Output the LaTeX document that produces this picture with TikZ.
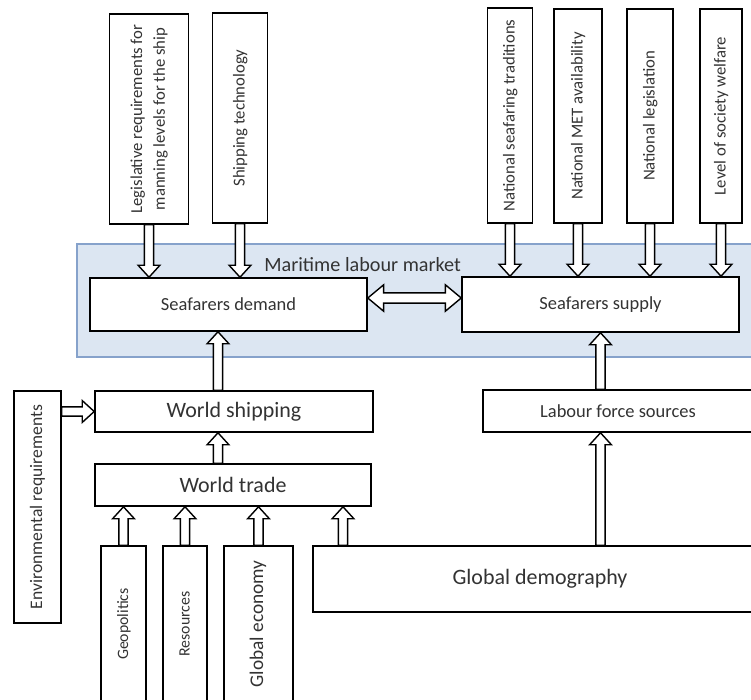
\documentclass[tikz,border=0pt]{standalone}
\usepackage{fontspec}
\setsansfont{Carlito}
\usepackage{graphicx}
\usepackage{tikz}
\usetikzlibrary{calc}
\tikzset{every picture/.style={/utils/exec={\sffamily}}}
\definecolor{marketblue}{HTML}{DCE6F2}
\definecolor{marketline}{HTML}{86A2CB}

\newcommand{\vtext}[1]{\rotatebox{90}{\begin{tabular}{@{}c@{}}#1\end{tabular}}}

\begin{document}
\begin{tikzpicture}[x=0.02cm, y=-0.02cm,
    box/.style={draw, fill=white, line width=0.9pt, inner sep=0pt, text=black!80},
    boxw/.style={minimum width=#1*0.02cm},
    boxh/.style={minimum height=#1*0.02cm},
    fs/.style={font=\fontsize{#1}{13}\selectfont},
    shaftw/.store in=\shaftw, headw/.store in=\headw, headl/.store in=\headl,
    shaftw=2.6pt, headw=6.2pt, headl=6.8pt,
    blockarrow/.style={draw=black, fill=white, line width=0.8pt,
        to path={let \p1=(\tikztostart), \p2=(\tikztotarget),
            \n1={atan2(\y2-\y1,\x2-\x1)}, \n2={veclen(\x2-\x1,\y2-\y1)} in
            {[shift={(\p1)}, rotate=\n1]
            ({0pt},{-\shaftw}) -- ({\n2-\headl},{-\shaftw}) -- ({\n2-\headl},{-\headw})
            -- ({\n2*1pt},{0pt}) -- ({\n2-\headl},{\headw}) -- ({\n2-\headl},{\shaftw})
            -- ({0pt},{\shaftw}) -- cycle}}},
    twoarrow/.style={draw=black, fill=white, line width=0.8pt,
        to path={let \p1=(\tikztostart), \p2=(\tikztotarget),
            \n1={atan2(\y2-\y1,\x2-\x1)}, \n2={veclen(\x2-\x1,\y2-\y1)} in
            {[shift={(\p1)}, rotate=\n1]
            ({0pt},{0pt}) -- ({\headl},{\headw}) -- ({\headl},{\shaftw})
            -- ({\n2-\headl},{\shaftw}) -- ({\n2-\headl},{\headw}) -- ({\n2*1pt},{0pt})
            -- ({\n2-\headl},{-\headw}) -- ({\n2-\headl},{-\shaftw})
            -- ({\headl},{-\shaftw}) -- ({\headl},{-\headw}) -- cycle}}}]
    \useasboundingbox (0,0) rectangle (751,700);
    \clip (0,0) rectangle (751,700);

    % Factors on top
    \node[box, fs=9.5, boxw=79, boxh=210] (leg) at (149,119) {\vtext{Legislative requirements for\\manning levels for the ship}};
    \node[box, fs=9.5, boxw=55, boxh=210] (tech) at (240,118) {\vtext{Shipping technology}};
    \node[box, fs=9.5, boxw=45, boxh=215] (nst) at (510,115.5) {\vtext{National seafaring traditions}};
    \node[box, fs=9.5, boxw=48, boxh=214] (met) at (578,116) {\vtext{National MET availability}};
    \node[box, fs=9.5, boxw=46, boxh=214] (nleg) at (650,116) {\vtext{National legislation}};
    \node[box, fs=9.5, boxw=42, boxh=214] (welf) at (721,116) {\vtext{Level of society welfare}};

    % Labour market
    \node[draw=marketline, fill=marketblue, line width=0.8pt, inner sep=0pt, boxw=690, boxh=113] (market) at (422,300.5) {};
    \node[fs=11.5, text=black!80, inner sep=0pt, anchor=west] (mlabel) at (264,265) {Maritime labour market};
    \node[box, fs=10.5, boxw=277, boxh=53] (demand) at (228.5,304.5) {Seafarers demand};
    \node[box, fs=10.5, boxw=277, boxh=55] (supply) at (600.5,304.5) {Seafarers supply};

    % Shipping and labour sources
    \node[box, fs=10, boxw=47, boxh=232] (env) at (37.5,507) {\vtext{Environmental requirements}};
    \node[box, fs=12.5, boxw=278, boxh=41] (wship) at (234,411.5) {World shipping};
    \node[box, fs=12.5, boxw=276, boxh=42] (wtrade) at (233,485) {World trade};
    \node[box, fs=10.5, boxw=270, boxh=42] (labour) at (618,411) {Labour force sources};

    % Bottom factors
    \node[box, fs=9, boxw=45, boxh=156] (geo) at (123.5,624) {\vtext{Geopolitics}};
    \node[box, fs=9, boxw=44, boxh=156] (res) at (185,624) {\vtext{Resources}};
    \node[box, fs=11, boxw=69, boxh=156] (geco) at (258.5,624) {\vtext{Global economy}};
    \node[box, fs=12.5, boxw=454, boxh=66] (demog) at (540,579) {Global demography};

    \coordinate (ax) at (218,0);
    \coordinate (dx) at (343,0);
    \coordinate (my) at (0,298);

    % Block arrows
    \draw[blockarrow] (leg.south) to (leg.south |- demand.north);
    \draw[blockarrow] (tech.south) to (tech.south |- demand.north);
    \foreach \src in {nst,met,nleg,welf}
        \draw[blockarrow] (\src.south) to (\src.south |- supply.north);
    \draw[twoarrow, shaftw=2.9pt, headw=7.5pt, headl=9pt] (demand.east |- my) to (supply.west |- my);
    \draw[blockarrow] (ax |- wship.north) to (ax |- demand.south);
    \draw[blockarrow] (ax |- wtrade.north) to (ax |- wship.south);
    \draw[blockarrow] (env.east |- wship.west) to (wship.west);
    \foreach \src in {geo,res,geco}
        \draw[blockarrow] (\src.north) to (\src.north |- wtrade.south);
    \draw[blockarrow] (dx |- demog.north) to (dx |- wtrade.south);
    \draw[blockarrow] (supply.south |- demog.north) to (supply.south |- labour.south);
    \draw[blockarrow] (supply.south |- labour.north) to (supply.south);
\end{tikzpicture}
\end{document}
